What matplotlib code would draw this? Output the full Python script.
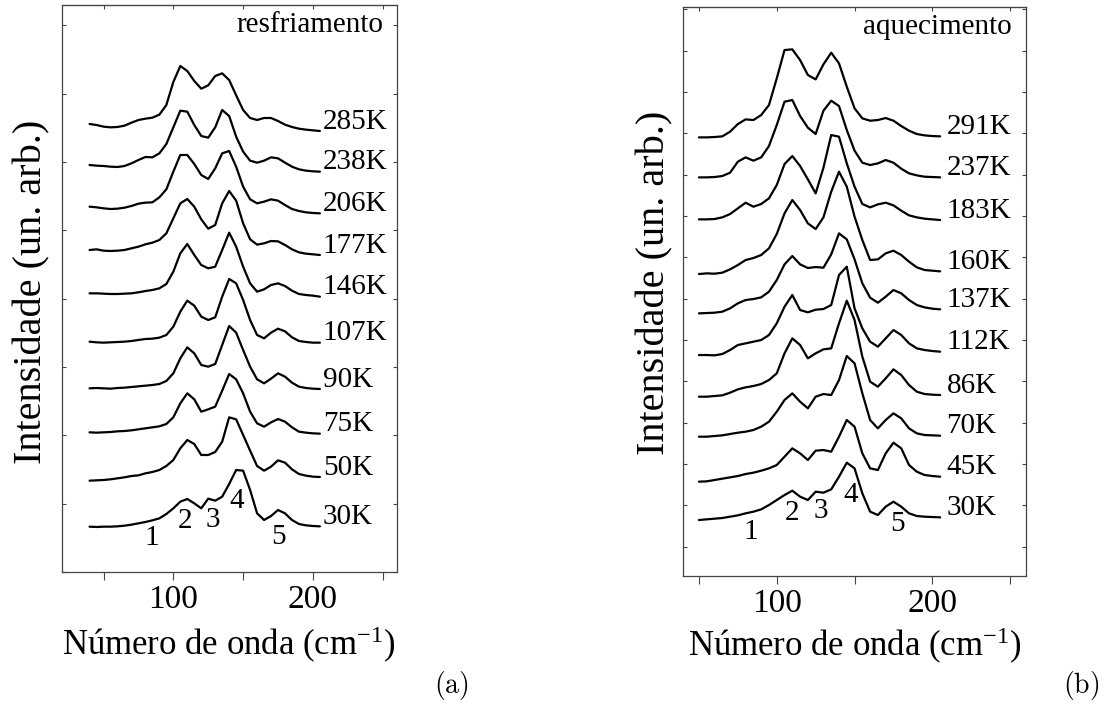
import numpy as np
import matplotlib
matplotlib.use("Agg")
import matplotlib.pyplot as plt

plt.rcParams['font.family'] = ['Liberation Serif', 'DejaVu Serif']
plt.rcParams['mathtext.fontset'] = 'custom'
plt.rcParams['mathtext.rm'] = 'Liberation Serif'
plt.rcParams['mathtext.it'] = 'Liberation Serif:italic'

# ---- (a) resfriamento ----
wn_a = np.arange(40, 206, 5)
temps_a = ["285K", "238K", "206K", "177K", "146K", "107K", "90K", "75K", "50K", "30K"]
offsets_a = [1323, 1201, 1076, 951, 826, 688, 549, 415, 285, 137]
spectra_a = [
    [21, 18, 13, 11, 12, 16, 25, 33, 37, 40, 49, 78, 147, 195, 180, 150, 127, 137, 165, 173,
     153, 107, 63, 39, 33, 39, 39, 30, 19, 12, 7, 4, 2, 0],
    [20, 18, 17, 15, 14, 17, 25, 35, 44, 43, 55, 83, 133, 183, 180, 140, 107, 102, 133, 185,
     167, 105, 60, 33, 27, 33, 43, 40, 27, 15, 7, 3, 1, 0],
    [20, 18, 15, 13, 14, 17, 22, 29, 32, 33, 48, 72, 125, 175, 175, 148, 115, 103, 135, 180,
     187, 140, 80, 42, 30, 35, 42, 38, 25, 13, 7, 3, 1, 0],
    [15, 17, 13, 12, 13, 15, 20, 25, 32, 37, 45, 65, 110, 155, 168, 145, 107, 79, 90, 155,
     192, 163, 95, 47, 31, 35, 42, 41, 30, 17, 8, 4, 2, 0],
    [10, 10, 9, 8, 8, 9, 10, 13, 17, 20, 25, 38, 75, 130, 158, 125, 95, 85, 90, 140,
     192, 150, 90, 40, 15, 22, 35, 40, 32, 18, 8, 5, 3, 0],
    [3, 1, 0, 1, 2, 3, 5, 8, 11, 12, 15, 23, 48, 93, 126, 111, 78, 68, 76, 138,
     191, 178, 128, 68, 23, 13, 30, 42, 34, 16, 5, 2, 0, 0],
    [2, 3, 2, 1, 3, 4, 6, 8, 10, 12, 15, 24, 47, 92, 125, 107, 72, 67, 75, 132,
     189, 169, 117, 67, 29, 17, 31, 47, 37, 19, 7, 3, 1, 0],
    [4, 3, 4, 5, 7, 8, 10, 13, 16, 19, 22, 29, 49, 91, 121, 103, 66, 73, 81, 129,
     179, 163, 121, 66, 31, 21, 34, 44, 36, 19, 6, 3, 1, 0],
    [-11, -10, -9, -7, -4, -1, 3, 5, 11, 15, 21, 33, 51, 86, 111, 99, 66, 66, 75, 106,
     179, 173, 126, 79, 33, 19, 31, 50, 43, 23, 9, 4, 1, 0],
    [-1, -2, -1, -1, 0, 2, 5, 9, 13, 18, 24, 37, 54, 74, 82, 69, 54, 83, 77, 89,
     127, 169, 167, 109, 39, 19, 31, 49, 39, 19, 7, 3, 1, 0],
]
modes_a = ["1", "2", "3", "4", "5"]
modes_a_x = [84.6, 108.5, 128.5, 145.6, 175.2]
modes_a_y = [102, 153, 156, 213, 105]

# ---- (b) aquecimento ----
wn_b = np.arange(50, 206, 5)
temps_b = ["291K", "237K", "183K", "160K", "137K", "112K", "86K", "70K", "45K", "30K"]
offsets_b = [1319, 1196, 1068, 914, 800, 673, 543, 421, 298, 176]
spectra_b = [
    [-3, -3, -2, 0, 14, 37, 51, 49, 64, 94, 174, 259, 261, 229, 184, 171, 216, 251, 219, 149,
     84, 54, 47, 49, 55, 47, 31, 17, 7, 3, 1, 0],
    [0, 0, 1, 4, 14, 47, 60, 50, 60, 94, 157, 227, 232, 184, 149, 130, 200, 230, 214, 142,
     80, 44, 37, 42, 52, 44, 26, 12, 6, 2, 1, 0],
    [2, 2, 3, 8, 18, 35, 52, 40, 48, 65, 105, 168, 192, 162, 122, 80, 157, 255, 250, 170,
     100, 48, 38, 47, 52, 44, 28, 14, 8, 4, 2, 0],
    [-8, -6, -7, -4, 6, 19, 34, 40, 49, 69, 112, 174, 214, 184, 144, 127, 162, 239, 299, 254,
     164, 94, 34, 36, 54, 62, 49, 29, 12, 4, 2, 0],
    [-12, -11, -10, -7, 3, 18, 28, 31, 36, 53, 88, 135, 160, 135, 124, 127, 125, 165, 228, 210,
     150, 78, 35, 20, 38, 58, 48, 28, 13, 6, 2, 0],
    [-10, -10, -11, -7, 5, 20, 25, 30, 35, 50, 85, 135, 170, 125, 118, 126, 128, 140, 230, 255,
     130, 70, 30, 15, 40, 65, 50, 25, 10, 5, 2, 0],
    [-5, -5, -3, -1, 7, 17, 23, 27, 33, 45, 65, 125, 170, 150, 110, 125, 137, 140, 215, 283,
     225, 115, 40, 25, 50, 77, 60, 30, 10, 3, 1, 0],
    [-3, -3, -1, 1, 5, 9, 12, 17, 27, 42, 72, 107, 127, 102, 82, 117, 125, 122, 167, 239,
     217, 127, 47, 22, 47, 67, 52, 22, 7, 2, 1, 0],
    [-15, -14, -10, -6, -2, 2, 8, 12, 18, 25, 35, 60, 85, 70, 50, 78, 80, 75, 120, 170,
     150, 70, 25, 20, 70, 102, 85, 35, 15, 5, 2, 0],
    [-8, -6, -4, -2, 2, 6, 12, 17, 24, 37, 52, 67, 80, 62, 52, 77, 74, 84, 122, 164,
     147, 72, 17, 7, 32, 47, 32, 12, 4, 2, 1, 0],
]
modes_b = ["1", "2", "3", "4", "5"]
modes_b_x = [83.5, 109.8, 128.5, 147.3, 177.4]
modes_b_y = [133, 188, 196, 243, 156]


def panel(ax, wn, temps, offsets, spectra, modes, mx, my, title, xlim, ylim, yt0, ytstep, lab_x):
    for off, spec, t in zip(offsets, spectra, temps):
        ax.plot(wn, off + np.asarray(spec), color="black", lw=1.6,
                solid_joinstyle="round", solid_capstyle="round")
        ax.text(lab_x, off + 28, t, fontsize=21, ha="left", va="center")
    for m, x, y in zip(modes, mx, my):
        ax.text(x, y, m, fontsize=21, ha="center", va="center")
    ax.text(0.96, 0.953, title, transform=ax.transAxes, fontsize=21, ha="right", va="baseline")
    ax.set_xlim(*xlim)
    ax.set_ylim(*ylim)
    ax.set_xticks([50, 100, 150, 200, 250])
    ax.set_xticklabels(["", "100", "", "200", ""])
    ax.set_yticks(np.arange(yt0, ylim[1], ytstep))
    ax.set_yticklabels([])
    ax.tick_params(axis="x", direction="out", length=6, width=0.8, labelsize=24, pad=3,
                   color="#444444")
    ax.tick_params(axis="y", direction="in", length=3, width=0.8, left=True, right=True,
                   color="#444444")
    top = ax.secondary_xaxis("top")
    top.set_xticks([50, 100, 150, 200, 250])
    top.set_xticklabels([])
    top.tick_params(direction="in", length=3, width=0.8, color="#444444")
    top.spines["top"].set_color("#444444")
    for s in ax.spines.values():
        s.set_color("#444444")
        s.set_linewidth(0.9)


fig = plt.figure(figsize=(11.13, 7.04), dpi=100)
ax_a = fig.add_axes([0.0554, 0.1875, 0.301, 0.8054])
ax_b = fig.add_axes([0.614, 0.1818, 0.3076, 0.8082])

panel(ax_a, wn_a, temps_a, offsets_a, spectra_a, modes_a, modes_a_x, modes_a_y,
      "resfriamento", (20, 260), (0, 1701), 0, 205, 207)
panel(ax_b, wn_b, temps_b, offsets_b, spectra_b, modes_b, modes_b_x, modes_b_y,
      "aquecimento", (40, 260), (0, 1707), 88, 124, 209)

xlab = "Número de onda (cm$^{\\mathrm{-1}}$)"
fig.text(229 / 1113, 1 - 655 / 704, xlab, fontsize=25, ha="center", va="baseline")
fig.text(855 / 1113, 1 - 656 / 704, xlab, fontsize=25, ha="center", va="baseline")
fig.text(32 / 1113, 1 - 292 / 704, "Intensidade (un. arb.)", fontsize=29, rotation=90,
         ha="center", va="center")
fig.text(655 / 1113, 1 - 283 / 704, "Intensidade (un. arb.)", fontsize=29, rotation=90,
         ha="center", va="center")
fig.text(451 / 1113, 1 - 686 / 704, r"$\mathrm{(a)}$", fontsize=20, ha="center", va="center",
         math_fontfamily="cm")
fig.text(1081 / 1113, 1 - 686 / 704, r"$\mathrm{(b)}$", fontsize=20, ha="center", va="center",
         math_fontfamily="cm")

fig.savefig("out.png", dpi=100)
